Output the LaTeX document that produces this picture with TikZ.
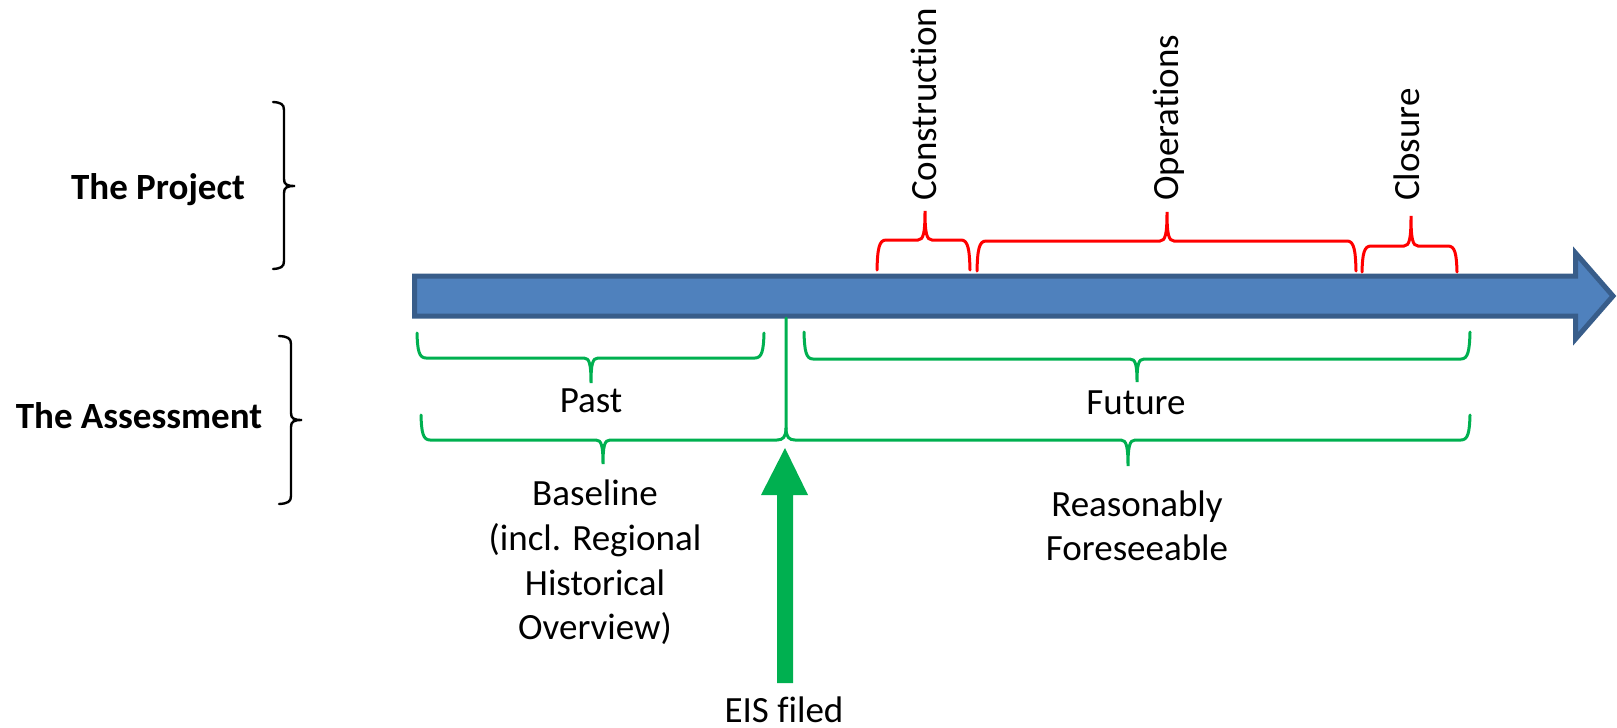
\documentclass[tikz,border=0pt]{standalone}
\usepackage{fontspec}
\setmainfont{Carlito}[Ligatures=NoCommon]
\definecolor{arrowfill}{HTML}{4F81BD}
\definecolor{arrowline}{HTML}{385D8A}
\definecolor{brgreen}{HTML}{00B050}
\definecolor{brred}{HTML}{FF0000}

% horizontal curly brace: x1, x2, xtip, yend, ybar, ytip
\newcommand\hbrc[7][]{%
  \draw[#1] (#2,#5) .. controls ({#2+0.5},{#6+0.3*(#5-#6)}) and ({#2+2},#6) .. ({#2+9},#6)
    -- ({#4-7},#6) .. controls ({#4-1.5},#6) and (#4,{#6+0.25*(#7-#6)}) .. (#4,#7)
    .. controls (#4,{#6+0.25*(#7-#6)}) and ({#4+1.5},#6) .. ({#4+7},#6)
    -- ({#3-9},#6) .. controls ({#3-2},#6) and ({#3-0.5},{#6+0.3*(#5-#6)}) .. (#3,#5);}
% vertical curly brace: y1, y2, ytip, xend, xbar, xtip
\newcommand\vbrc[7][]{%
  \draw[#1] (#5,#2) .. controls ({#6+0.3*(#5-#6)},{#2+0.5}) and (#6,{#2+2}) .. (#6,{#2+8})
    -- (#6,{#4-7}) .. controls (#6,{#4-1.5}) and ({#6+0.25*(#7-#6)},#4) .. (#7,#4)
    .. controls ({#6+0.25*(#7-#6)},#4) and (#6,{#4+1.5}) .. (#6,{#4+7})
    -- (#6,{#3-8}) .. controls (#6,{#3-2}) and ({#6+0.3*(#5-#6)},{#3-0.5}) .. (#5,#3);}

\begin{document}
\begin{tikzpicture}[x=1pt,y=-1pt,
  lbl/.style={font=\fontsize{37}{44}\selectfont, inner sep=0pt, anchor=base},
  side/.style={lbl, font=\fontsize{37}{44}\selectfont\bfseries},
  vlbl/.style={lbl, rotate=90, anchor=base west},
  redbr/.style={draw=brred, line width=3pt, line cap=round},
  grnbr/.style={draw=brgreen, line width=3pt, line cap=round},
  blkbr/.style={draw=black, line width=2.4pt, line cap=round}]
\useasboundingbox (0,0) rectangle (1617,728);

% timeline arrow
\path[draw=arrowline, fill=arrowfill, line width=5pt, line join=miter]
  (414.5,276) -- (1575.5,276) -- (1575.5,253) -- (1613,296)
  -- (1575.5,339) -- (1575.5,316) -- (414.5,316) -- cycle;

% side labels and their braces
\node[side] (proj) at (158,199) {The Project};
\node[side] (assess) at (139,428) {The Assessment};
\vbrc[blkbr]{102}{269}{186}{273}{284}{295}
\vbrc[blkbr]{336}{504}{420}{279}{291}{302}

% project phases
\hbrc[redbr]{877}{970}{925}{270}{240}{211}
\hbrc[redbr]{977}{1356}{1167}{271}{241}{212}
\hbrc[redbr]{1362}{1457}{1411}{272}{246}{216}
\node[vlbl] (constr) at (936,201) {Construction};
\node[vlbl] (oper) at (1178,201) {Operations};
\node[vlbl] (clos) at (1419,201) {Closure};

% assessment periods
\hbrc[grnbr]{417}{764}{591}{333}{358}{383}
\hbrc[grnbr]{804}{1470}{1137}{332}{359}{382}
\node[lbl] (past) at (591,412) {Past};
\node[lbl] (future) at (1136,414) {Future};

% baseline and reasonably foreseeable braces joined at the filing date
\draw[grnbr] (421,415) .. controls (421.5,432.5) and (423,440) .. (430,440)
  -- (596,440) .. controls (601.5,440) and (603,446) .. (603,464)
  .. controls (603,446) and (604.5,440) .. (610,440)
  -- (777,440) .. controls (783,440) and (786,437) .. (786,428) -- (786,318);
\draw[grnbr] (786,428) .. controls (786,437) and (789,440) .. (795,440)
  -- (1121,440) .. controls (1126.5,440) and (1128,447) .. (1128,466)
  .. controls (1128,447) and (1129.5,440) .. (1135,440)
  -- (1461,440) .. controls (1468,440) and (1469.5,432.5) .. (1470,415);

\node[lbl] (base1) at (595,505) {Baseline};
\node[lbl] (base2) at (595,550) {(incl. Regional};
\node[lbl] (base3) at (595,595) {Historical};
\node[lbl] (base4) at (595,639) {Overview)};
\node[lbl] (rf1) at (1137,516) {Reasonably};
\node[lbl] (rf2) at (1137,560) {Foreseeable};

% filing marker
\fill[brgreen] (777,683) -- (793,683) -- (793,495) -- (808,495) -- (785,448)
  -- (761,495) -- (777,495) -- cycle;
\node[lbl] (eis) at (784,722) {EIS filed};
\end{tikzpicture}
\end{document}
